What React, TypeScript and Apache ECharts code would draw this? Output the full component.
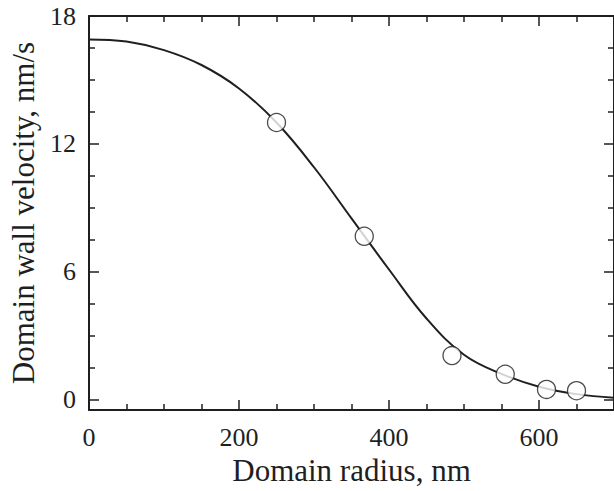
import React, { useEffect, useRef } from "react";
import * as echarts from "echarts";

// Fitted curve (radius nm, velocity nm/s)
const curveRadius = [0, 50, 100, 150, 200, 250, 300, 350, 400, 450, 500, 550, 600, 650, 700];
const curveVelocity = [16.9, 16.8, 16.4, 15.7, 14.6, 13.0, 10.9, 8.5, 6.1, 3.8, 2.1, 1.2, 0.6, 0.25, 0.08];

// Measured points
const pointRadius = [250, 367, 484, 555, 610, 650];
const pointVelocity = [13.0, 7.66, 2.06, 1.18, 0.47, 0.41];

const xMajorTicks = [0, 200, 400, 600];
const xMinorTicks = [50, 100, 150, 250, 300, 350, 450, 500, 550, 650];
const yMajorTicks = [0, 6, 12, 18];
const yMinorTicks = [1.5, 3, 4.5, 7.5, 9, 10.5, 13.5, 15, 16.5];

const INK = "#1f1f1f";
const FONT = "Liberation Serif";

export default function App() {
  const ref = useRef<HTMLDivElement>(null);

  useEffect(() => {
    if (!ref.current) return;
    const chart = echarts.init(ref.current, null, { renderer: "svg" });

    const xBase = (position: string, major: boolean, showLine: boolean, labels: boolean, name?: string) => ({
      type: "value",
      gridIndex: 0,
      min: 0,
      max: 700,
      position,
      offset: 0,
      name,
      nameLocation: "middle",
      nameGap: 43,
      nameTextStyle: { fontFamily: FONT, fontSize: 31, color: INK },
      axisLine: { show: showLine, onZero: false, lineStyle: { color: INK, width: 2 } },
      axisTick: {
        show: true,
        inside: true,
        length: major ? 10 : 6,
        customValues: major ? xMajorTicks : xMinorTicks,
        lineStyle: { color: INK, width: 1.5 },
      },
      axisLabel: labels
        ? { show: true, customValues: xMajorTicks, fontFamily: FONT, fontSize: 26, color: INK, margin: 14 }
        : { show: false },
      splitLine: { show: false },
    });

    const yBase = (position: string, major: boolean, showLine: boolean, labels: boolean, name?: string) => ({
      type: "value",
      gridIndex: 0,
      min: -0.5,
      max: 18,
      position,
      offset: 0,
      name,
      nameLocation: "middle",
      nameGap: 50,
      nameTextStyle: { fontFamily: FONT, fontSize: 31, color: INK },
      axisLine: { show: showLine, onZero: false, lineStyle: { color: INK, width: 2 } },
      axisTick: {
        show: true,
        inside: true,
        length: major ? 10 : 6,
        customValues: major ? yMajorTicks : yMinorTicks,
        lineStyle: { color: INK, width: 1.5 },
      },
      axisLabel: labels
        ? { show: true, customValues: yMajorTicks, fontFamily: FONT, fontSize: 26, color: INK, margin: 13 }
        : { show: false },
      splitLine: { show: false },
    });

    chart.setOption({
      animation: false,
      backgroundColor: "#ffffff",
      textStyle: { fontFamily: FONT },
      grid: { left: 84, top: 16, width: 533, height: 396.5, containLabel: false },
      xAxis: [
        xBase("bottom", true, true, true, "Domain radius, nm"),
        xBase("bottom", false, false, false),
        xBase("top", true, true, false),
        xBase("top", false, false, false),
      ],
      yAxis: [
        yBase("left", true, true, true, "Domain wall velocity, nm/s"),
        yBase("left", false, false, false),
        yBase("right", true, true, false),
        yBase("right", false, false, false),
      ],
      series: [
        {
          type: "line",
          xAxisIndex: 0,
          yAxisIndex: 0,
          data: curveRadius.map((r, i) => [r, curveVelocity[i]]),
          smooth: 0.4,
          showSymbol: false,
          lineStyle: { color: INK, width: 2 },
          z: 2,
        },
        {
          type: "scatter",
          xAxisIndex: 0,
          yAxisIndex: 0,
          data: pointRadius.map((r, i) => [r, pointVelocity[i]]),
          symbol: "circle",
          symbolSize: 18,
          itemStyle: { color: "#ffffff", borderColor: INK, borderWidth: 1.3 },
          z: 3,
        },
      ],
    });

    return () => chart.dispose();
  }, []);

  return (
    <div
      ref={ref}
      style={{ position: "absolute", left: 0, top: 0, width: 614, height: 491 }}
    />
  );
}
